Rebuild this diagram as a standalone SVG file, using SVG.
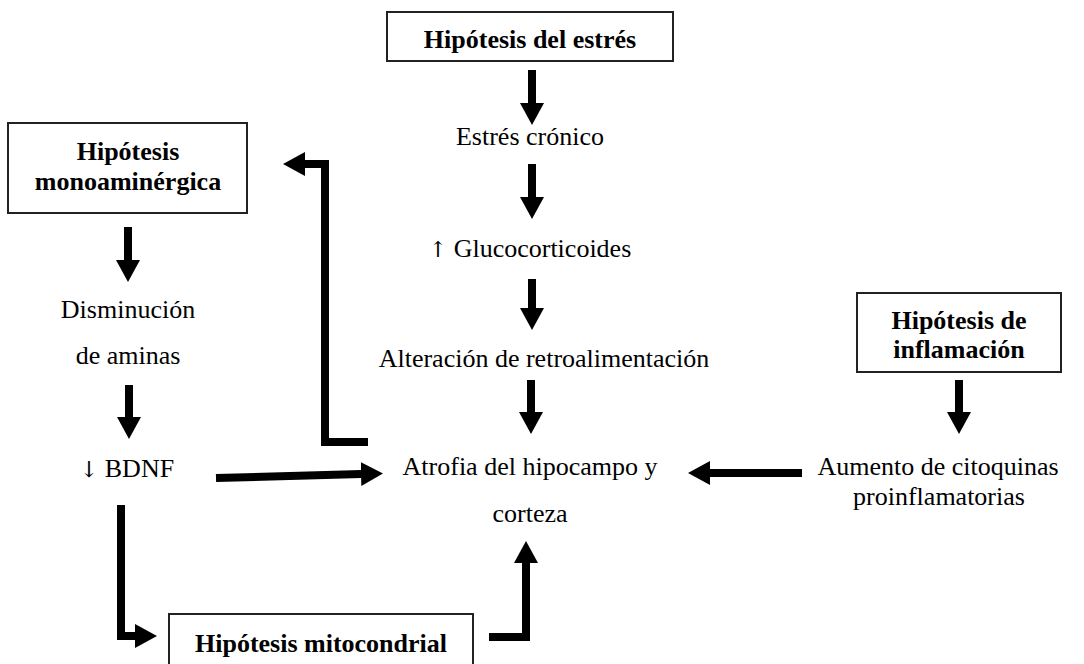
<svg xmlns="http://www.w3.org/2000/svg" width="1084" height="664" viewBox="0 0 1084 664">
<style>
text{font-family:"Liberation Serif","Times New Roman",serif;font-size:26px;fill:#000;text-anchor:middle}
.b{font-weight:bold}
.sym{font-family:"DejaVu Serif","DejaVu Sans",serif;font-size:22px;fill:#000}
.box{fill:#fff;stroke:#222;stroke-width:2}
.arr{fill:none;stroke:#000;stroke-width:8;stroke-linejoin:miter;marker-end:url(#ah)}
</style>
<defs>
<marker id="ah" viewBox="0 0 22 24" refX="0" refY="12" markerWidth="22" markerHeight="24" markerUnits="userSpaceOnUse" orient="auto">
<path d="M0,0 L22,12 L0,24 z" fill="#000"/>
</marker>
</defs>
<rect width="1084" height="664" fill="#fff"/>
<g id="connectors">
<path class="arr" d="M532,70 V103"/>
<path class="arr" d="M532,164 V197"/>
<path class="arr" d="M532,279 V308"/>
<path class="arr" d="M531,380 V412"/>
<path class="arr" d="M128,227 V260"/>
<path class="arr" d="M129,385 V417"/>
<path class="arr" d="M959,380 V412"/>
<path class="arr" d="M368,442 H325 V164 H305"/>
<path class="arr" d="M216,478 L361,474"/>
<path class="arr" d="M121,505 V636 H135"/>
<path class="arr" d="M489,637 H526 V563"/>
<path class="arr" d="M802,473 H710"/>
</g>
<g id="n-estres">
<rect class="box" x="387" y="12" width="286" height="49"/>
<text class="b" x="530" y="48">Hipótesis del estrés</text>
</g>
<g id="n-cronico"><text x="530" y="145">Estrés crónico</text></g>
<g id="n-gluco"><text x="530" y="257"><tspan class="sym">↑</tspan> Glucocorticoides</text></g>
<g id="n-alteracion"><text x="544" y="367">Alteración de retroalimentación</text></g>
<g id="n-atrofia">
<text x="530" y="475">Atrofia del hipocampo y</text>
<text x="530" y="522">corteza</text>
</g>
<g id="n-mono">
<rect class="box" x="8" y="123" width="239" height="90"/>
<text class="b" x="128" y="160">Hipótesis</text>
<text class="b" x="128" y="190">monoaminérgica</text>
</g>
<g id="n-aminas">
<text x="128" y="318">Disminución</text>
<text x="128" y="364">de aminas</text>
</g>
<g id="n-bdnf"><text x="127" y="477"><tspan class="sym">↓</tspan> BDNF</text></g>
<g id="n-inflam">
<rect class="box" x="857" y="293" width="204" height="79"/>
<text class="b" x="959" y="329">Hipótesis de</text>
<text class="b" x="959" y="358">inflamación</text>
</g>
<g id="n-citoquinas">
<text x="938" y="475">Aumento de citoquinas</text>
<text x="939" y="505">proinflamatorias</text>
</g>
<g id="n-mito">
<rect class="box" x="169" y="614" width="304" height="60"/>
<text class="b" x="321" y="652">Hipótesis mitocondrial</text>
</g>
</svg>
